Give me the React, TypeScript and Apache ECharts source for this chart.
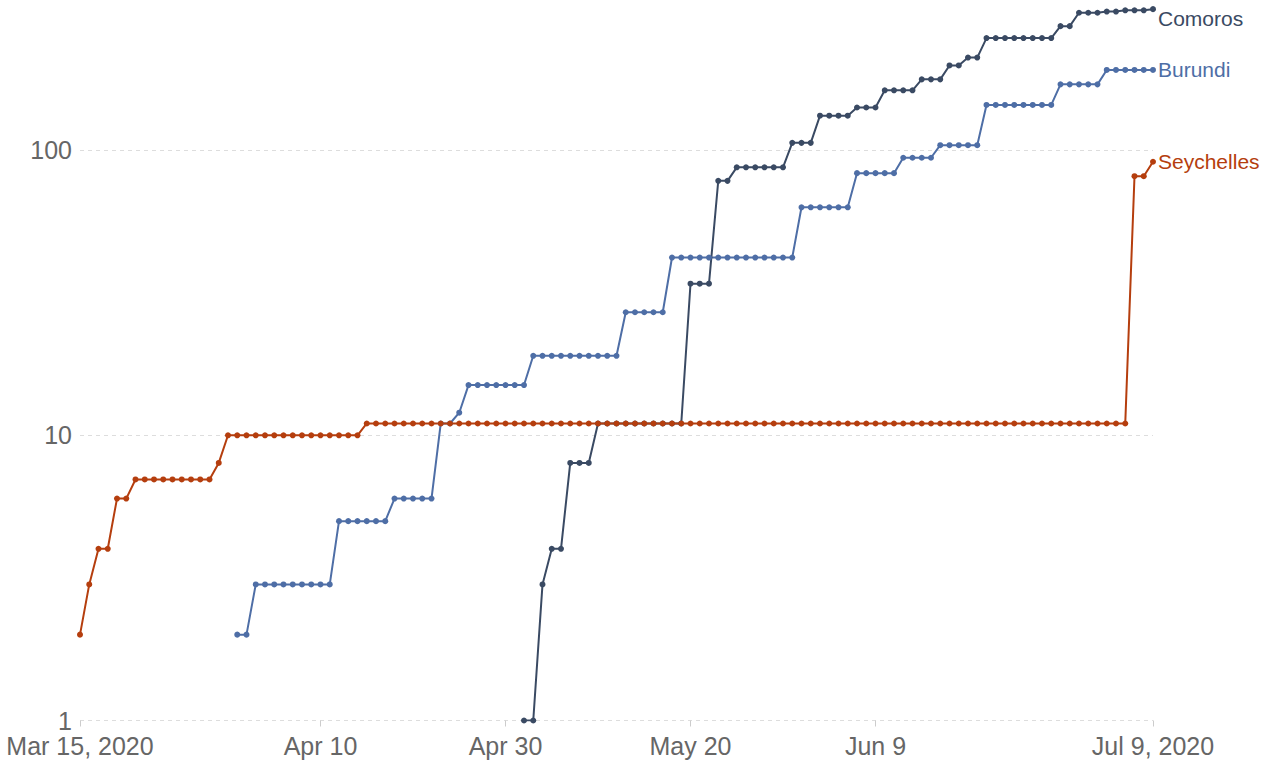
import React, { useEffect, useRef } from 'react';
import * as echarts from 'echarts';

// ---- categories (one per day, Mar 15 2020 .. Jul 9 2020) ----
const dayCount = 117;
const categories: string[] = (() => {
  const out: string[] = [];
  const t0 = Date.UTC(2020, 2, 15);
  for (let i = 0; i < dayCount; i++) {
    out.push(new Date(t0 + i * 86400000).toISOString().slice(0, 10));
  }
  return out;
})();

// ---- tick labels ----
const tickDates = ['2020-03-15', '2020-04-10', '2020-04-30', '2020-05-20', '2020-06-09', '2020-07-09'];
const tickLabels = ['Mar 15, 2020', 'Apr 10', 'Apr 30', 'May 20', 'Jun 9', 'Jul 9, 2020'];
const yTicks = [1, 10, 100];

// ---- series values (cumulative cases, log scale) ----
const seychelles = [
  2, 3, 4, 4, 6, 6, 7, 7, 7, 7,
  7, 7, 7, 7, 7, 8, 10, 10, 10, 10,
  10, 10, 10, 10, 10, 10, 10, 10, 10, 10,
  10, 11, 11, 11, 11, 11, 11, 11, 11, 11,
  11, 11, 11, 11, 11, 11, 11, 11, 11, 11,
  11, 11, 11, 11, 11, 11, 11, 11, 11, 11,
  11, 11, 11, 11, 11, 11, 11, 11, 11, 11,
  11, 11, 11, 11, 11, 11, 11, 11, 11, 11,
  11, 11, 11, 11, 11, 11, 11, 11, 11, 11,
  11, 11, 11, 11, 11, 11, 11, 11, 11, 11,
  11, 11, 11, 11, 11, 11, 11, 11, 11, 11,
  11, 11, 11, 11, 81, 81, 91,
];

const burundi = [
  null, null, null, null, null, null, null, null, null, null,
  null, null, null, null, null, null, null, 2, 2, 3,
  3, 3, 3, 3, 3, 3, 3, 3, 5, 5,
  5, 5, 5, 5, 6, 6, 6, 6, 6, 11,
  11, 12, 15, 15, 15, 15, 15, 15, 15, 19,
  19, 19, 19, 19, 19, 19, 19, 19, 19, 27,
  27, 27, 27, 27, 42, 42, 42, 42, 42, 42,
  42, 42, 42, 42, 42, 42, 42, 42, 63, 63,
  63, 63, 63, 63, 83, 83, 83, 83, 83, 94,
  94, 94, 94, 104, 104, 104, 104, 104, 144, 144,
  144, 144, 144, 144, 144, 144, 170, 170, 170, 170,
  170, 191, 191, 191, 191, 191, 191,
];

const comoros = [
  null, null, null, null, null, null, null, null, null, null,
  null, null, null, null, null, null, null, null, null, null,
  null, null, null, null, null, null, null, null, null, null,
  null, null, null, null, null, null, null, null, null, null,
  null, null, null, null, null, null, null, null, 1, 1,
  3, 4, 4, 8, 8, 8, 11, 11, 11, 11,
  11, 11, 11, 11, 11, 11, 34, 34, 34, 78,
  78, 87, 87, 87, 87, 87, 87, 106, 106, 106,
  132, 132, 132, 132, 141, 141, 141, 162, 162, 162,
  162, 177, 177, 177, 198, 198, 211, 211, 247, 247,
  247, 247, 247, 247, 247, 247, 272, 272, 303, 303,
  303, 306, 306, 309, 309, 309, 312,
];

const colorComoros = '#3a4a63';
const colorBurundi = '#4e6ea6';
const colorSeychelles = '#b53e0e';
const fontFamily = '"Liberation Sans", Arial, Helvetica, sans-serif';

function makeSeries(name: string, data: (number | null)[], color: string, offset: number[]) {
  return {
    name,
    type: 'line',
    data,
    symbol: 'circle',
    symbolSize: 6,
    showAllSymbol: true,
    connectNulls: false,
    lineStyle: { width: 2, color },
    itemStyle: { color },
    emphasis: { disabled: true },
    endLabel: {
      show: true,
      formatter: '{a}',
      color,
      fontSize: 21,
      fontFamily,
      distance: 5,
      offset,
    },
  };
}

export default function App() {
  const ref = useRef<HTMLDivElement>(null);

  useEffect(() => {
    if (!ref.current) return;
    const chart = echarts.init(ref.current, undefined, { renderer: 'svg' });
    const isTick = (_i: number, v: string) => tickDates.indexOf(v) >= 0;
    chart.setOption({
      animation: false,
      grid: { left: 80, right: 116, top: 6, bottom: 42.5, containLabel: false },
      xAxis: {
        type: 'category',
        data: categories,
        boundaryGap: false,
        axisLine: { show: false },
        axisTick: { show: true, interval: isTick, length: 6, lineStyle: { color: '#cccccc' } },
        axisLabel: {
          interval: isTick,
          formatter: (v: string) => {
            const k = tickDates.indexOf(v);
            return k >= 0 ? tickLabels[k] : '';
          },
          color: '#666666',
          fontSize: 25,
          fontFamily,
          margin: 13,
        },
        splitLine: { show: false },
      },
      yAxis: {
        type: 'log',
        logBase: 10,
        min: 1,
        max: 320,
        interval: 1,
        axisLine: { show: false },
        axisTick: { show: false },
        axisLabel: {
          color: '#666666',
          fontSize: 25,
          fontFamily,
          margin: 8,
          showMaxLabel: false,
          formatter: (v: number) => (yTicks.some((t) => Math.abs(t - v) < 1e-6) ? String(Math.round(v)) : ''),
        },
        splitLine: {
          show: true,
          showMinLine: true,
          showMaxLine: false,
          lineStyle: { color: '#dddddd', type: [4, 4], width: 1 },
        },
      },
      series: [
        makeSeries('Burundi', burundi, colorBurundi, [0, 0]),
        makeSeries('Comoros', comoros, colorComoros, [0, 9]),
        makeSeries('Seychelles', seychelles, colorSeychelles, [0, 0]),
      ],
    });
    return () => chart.dispose();
  }, []);

  return (
    <div
      ref={ref}
      style={{ position: 'fixed', left: 0, top: 0, width: 1269, height: 763, background: '#ffffff' }}
    />
  );
}
